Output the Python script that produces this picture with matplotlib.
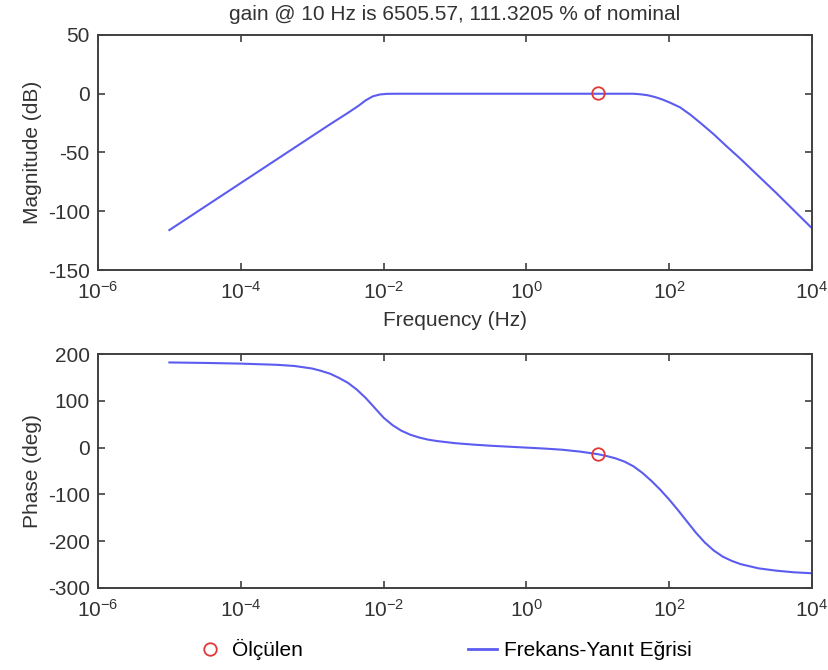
import numpy as np
import matplotlib
matplotlib.use("Agg")
import matplotlib.pyplot as plt
from matplotlib.lines import Line2D

plt.rcParams['font.family'] = ['Liberation Sans', 'DejaVu Sans']
plt.rcParams['mathtext.fontset'] = 'custom'
plt.rcParams['mathtext.rm'] = 'Liberation Sans'
plt.rcParams['mathtext.default'] = 'regular'
plt.rcParams['axes.unicode_minus'] = False

# magnitude curve (exponent of frequency in Hz, dB)
mag_logf = [-5.0, -4.5, -4.0, -3.5, -3.0, -2.75, -2.5, -2.35, -2.25, -2.15, -2.05, -1.95,
            -1.8, -1.0, 0.0, 1.0, 1.5, 1.6, 1.7, 1.8, 1.9, 2.0, 2.15, 2.3, 2.45, 2.62,
            2.8, 3.0, 3.25, 3.5, 3.75, 4.0]
mag_db = [-116, -96, -76, -56, -36, -26, -16.3, -10.2, -5.6, -2.2, -0.6, -0.1,
          0, 0, 0, 0, 0, -0.5, -1.3, -2.8, -4.8, -7.3, -11.5, -18, -25.5, -34.3,
          -44.5, -55.5, -70, -84.5, -99.5, -114.5]

# phase curve (exponent of frequency in Hz, degrees)
ph_logf = [-5.0, -4.5, -4.0, -3.5, -3.25, -3.0, -2.875, -2.75, -2.625, -2.5, -2.375,
           -2.25, -2.125, -2.0, -1.875, -1.75, -1.625, -1.5, -1.375, -1.25, -1.0,
           -0.75, -0.5, -0.25, 0.0, 0.25, 0.5, 0.75, 1.0, 1.125, 1.25, 1.375, 1.5,
           1.625, 1.75, 1.875, 2.0, 2.125, 2.25, 2.375, 2.5, 2.625, 2.75, 2.875,
           3.0, 3.25, 3.5, 3.75, 4.0]
ph_deg = [182, 181, 179.5, 177, 174.5, 169, 164, 158, 149, 138.5, 124,
          106, 85, 64, 48, 36, 27.5, 21.5, 17, 14, 9.5,
          6.5, 4, 2, 0, -2, -4.5, -8.5, -14, -18, -23, -30, -40,
          -54, -71, -90, -111, -134, -158, -182, -203, -220, -233, -242,
          -249, -258, -263, -266.5, -268.5]

# measured point at 10 Hz
meas_f = [10.0]
meas_db = [0.93]
meas_deg = [-14]

title_txt = 'gain @ 10 Hz is 6505.57, 111.3205 % of nominal'
xticks = [1e-6, 1e-4, 1e-2, 1e0, 1e2, 1e4]

line_col = '#5c5cf0'
mark_col = '#e03838'
spine_col = '#404040'
fs = 15

fig = plt.figure(figsize=(8.29, 6.70), dpi=100)
ax1 = fig.add_axes([0.1182, 0.597, 0.8613, 0.3508])
ax2 = fig.add_axes([0.1182, 0.1224, 0.8613, 0.3492])

ax1.plot(10.0 ** np.array(mag_logf), mag_db, color=line_col, lw=1.5)
ax1.plot(meas_f, meas_db, 'o', mfc='none', mec=mark_col, ms=9, mew=1.3)
ax2.plot(10.0 ** np.array(ph_logf), ph_deg, color=line_col, lw=1.5)
ax2.plot(meas_f, meas_deg, 'o', mfc='none', mec=mark_col, ms=9, mew=1.3)

for ax in (ax1, ax2):
    ax.set_xscale('log')
    ax.set_xlim(1e-6, 1e4)
    ax.set_xticks(xticks)
    ax.minorticks_off()
    ax.tick_params(direction='in', top=True, right=True, length=5, width=1.2,
                   labelsize=fs, colors=spine_col, labelcolor='#333333')
    ax.tick_params(axis='x', pad=8)
    ax.tick_params(axis='y', pad=6)
    for s in ax.spines.values():
        s.set_color(spine_col)
        s.set_linewidth(1.4)

ax1.set_ylim(-150, 50)
ax1.set_yticks([-150, -100, -50, 0, 50])
ax2.set_ylim(-300, 200)
ax2.set_yticks([-300, -200, -100, 0, 100, 200])

ax1.set_title(title_txt, fontsize=fs, color='#333333', pad=11)
ax1.set_xlabel('Frequency (Hz)', fontsize=fs, color='#333333', labelpad=6)
ax1.set_ylabel('Magnitude (dB)', fontsize=fs, color='#333333', labelpad=4)
ax2.set_ylabel('Phase (deg)', fontsize=fs, color='#333333', labelpad=4)

handles = [Line2D([], [], ls='none', marker='o', mfc='none', mec=mark_col, ms=9, mew=1.3),
           Line2D([], [], color=line_col, lw=2)]
fig.legend(handles, ['Ölçülen', 'Frekans-Yanıt Eğrisi'], loc='center left',
           bbox_to_anchor=(0.236, 0.03), ncol=2, frameon=False, fontsize=15,
           handlelength=1.4, handletextpad=0.35, columnspacing=7.9, borderpad=0,
           borderaxespad=0)

fig.savefig('out.png', dpi=100)
